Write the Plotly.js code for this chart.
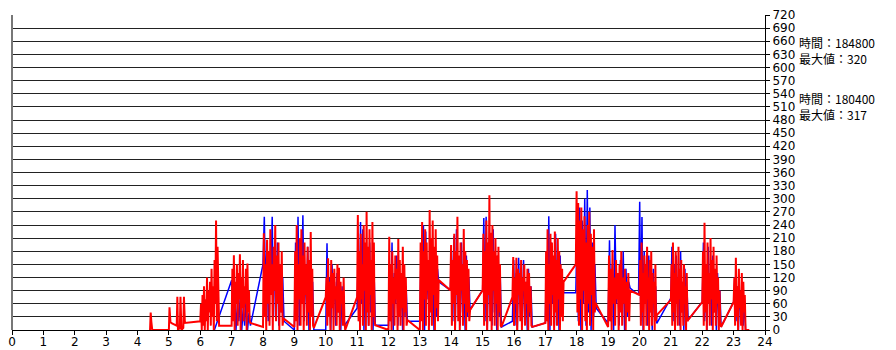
<!DOCTYPE html>
<html>
<head>
<meta charset="utf-8">
<script src="https://cdn.plot.ly/plotly-3.0.1.min.js"></script>
<style>html,body{margin:0;padding:0;background:#fff;}#chart{width:896px;height:350px;}</style>
</head>
<body>
<div id="chart"></div>
<script>
// Hours axis ticks
const hourTicks = [0,1,2,3,4,5,6,7,8,9,10,11,12,13,14,15,16,17,18,19,20,21,22,23,24];

// Red series (時間：180400, 最大値：317) - early sparse samples
const redEarlyX = [4.40,4.42,4.44,4.47,5.00,5.02,5.05,5.10,5.25,5.27,5.29,5.35,5.37,5.40,5.46,5.48,5.51];
const redEarlyY = [0,40,20,0,0,52,18,15,10,76,0,5,76,0,5,76,16];

// Red series bursts: [start hour, end hour]
const redSpans = [[6.0,6.6],[7.0,7.6],[8.0,8.65],[9.0,9.62],[10.0,10.62],[11.0,11.58],[12.0,12.6],[13.0,13.6],[13.97,14.6],[15.0,15.6],[15.95,16.58],[17.0,17.58],[17.97,18.6],[19.0,19.7],[20.0,20.55],[21.0,21.55],[22.0,22.6],[23.0,23.38]];
const redBursts = [
  [20,60,0,80,10,100,0,70,20,120,0,90,40,110,10,140,30,100,0,160,60,250,20,190,40,10],
  [10,140,20,171,0,110,60,150,10,130,70,173,0,120,50,160,20,100,60,140,0,152,40,90,20,16],
  [7,221,30,150,0,206,60,180,10,230,80,150,0,190,90,240,20,170,60,200,0,150,40,180,10,27],
  [7,180,20,240,0,150,70,210,10,230,60,170,0,200,80,150,10,190,40,160,0,224,30,140,10,5],
  [75,120,10,164,30,110,0,160,50,130,0,140,70,100,10,150,40,142,0,110,60,90,10,120,20,0],
  [75,263,20,180,0,220,70,150,10,240,90,200,0,270,40,190,10,230,80,160,0,247,30,200,20,11],
  [0,213,20,150,0,180,60,120,10,170,70,140,0,208,30,160,10,130,50,190,0,150,40,120,10,23],
  [0,200,20,247,0,180,70,230,10,200,90,160,0,274,40,210,10,250,80,190,0,230,50,170,20,114],
  [91,194,10,160,60,220,0,180,80,259,20,170,0,200,90,150,10,231,60,180,0,160,40,140,20,46],
  [91,220,10,180,60,250,0,200,80,308,20,222,0,240,90,180,10,210,60,170,0,190,40,150,10,7],
  [75,167,10,120,60,165,0,140,80,130,20,160,0,120,90,150,10,110,60,140,0,130,40,100,10,7],
  [16,180,20,230,0,150,60,220,10,200,80,170,0,225,40,160,10,210,70,180,0,150,30,140,20,110],
  [150,317,40,290,10,250,70,280,0,230,90,260,20,200,0,240,60,270,10,220,80,190,0,230,40,62],
  [7,170,20,140,0,183,60,120,10,160,70,130,0,150,40,180,10,120,60,140,0,110,40,130,20,90],
  [80,160,10,200,40,130,0,170,60,150,10,190,70,120,0,160,40,180,10,130,60,110,0,150,20,34],
  [69,150,10,200,40,130,0,180,60,120,10,190,70,140,0,160,40,110,10,150,60,100,0,130,20,23],
  [64,180,10,245,40,150,0,200,60,130,10,210,70,160,0,190,40,140,10,170,60,120,0,90,20,7],
  [64,120,10,165,30,100,0,140,50,90,10,130,0,110,40,80,0]
];
const redTailX = [23.5];
const redTailY = [0];

// Blue series (時間：184800, 最大値：320)
const blueEarlyX = [6.45];
const blueEarlyY = [0];
const blueSpans = [[7.0,7.6],[8.0,8.67],[9.0,9.62],[10.0,10.6],[11.0,11.58],[12.0,12.6],[13.0,13.6],[13.97,14.6],[15.0,15.6],[15.95,16.58],[17.0,17.58],[17.97,18.62],[19.0,19.7],[19.97,20.55],[21.0,21.55],[22.0,22.6],[23.0,23.38]];
const blueBursts = [
  [114,40,90,0,60,20,80,0,50,10,70,0,40,10],
  [150,259,80,200,20,170,100,259,30,180,60,200,10,150,40,120,20],
  [0,200,50,259,10,180,90,262,20,150,60,190,0,130,40,110,0],
  [0,198,30,120,0,150,60,110,10,130,40,90,0,100,20,11],
  [50,180,20,247,60,230,0,190,80,150,10,200,40,130,0,120,11],
  [11,150,20,200,0,130,60,170,10,150,40,120,0,150,30,100,20],
  [20,180,30,240,0,225,70,160,10,200,40,150,0,170,30,140,110],
  [91,180,20,215,0,230,60,160,10,200,40,140,0,170,30,120,46],
  [91,256,20,259,0,200,60,180,10,230,40,150,0,170,30,120,7],
  [20,160,10,130,0,165,60,120,10,160,40,110,0,140,30,100,7],
  [16,180,20,260,0,200,60,150,10,220,40,130,0,170,30,110,85],
  [85,230,20,280,0,250,60,300,10,320,40,280,0,200,30,150,50],
  [16,205,20,150,0,240,60,130,10,160,40,180,0,140,30,110,96],
  [80,293,20,258,0,180,60,150,10,170,40,130,0,140,30,100,15],
  [73,190,20,150,0,170,60,120,10,180,40,110,0,140,30,90,23],
  [64,200,20,150,0,190,60,120,10,170,40,110,0,130,30,90,7],
  [64,121,20,100,0,90,40,80,10,70,0]
];

const labels = [
  {time:'時間：184800', max:'最大値：320'},
  {time:'時間：180400', max:'最大値：317'}
];

function build(earlyX, earlyY, spans, bursts, tailX, tailY){
  const xs = earlyX.slice(), ys = earlyY.slice();
  spans.forEach((s,i)=>{
    const v = bursts[i], n = v.length;
    v.forEach((val,j)=>{ xs.push(s[0] + (s[1]-s[0])*j/(n-1)); ys.push(val); });
  });
  tailX.forEach((x,i)=>{ xs.push(x); ys.push(tailY[i]); });
  return {xs, ys};
}
const blue = build(blueEarlyX, blueEarlyY, blueSpans, blueBursts, [], []);
const red = build(redEarlyX, redEarlyY, redSpans, redBursts, redTailX, redTailY);

const traces = [
  {x: blue.xs, y: blue.ys, type:'scatter', mode:'lines', line:{color:'rgb(0,0,255)', width:1.5}, hoverinfo:'skip'},
  {x: red.xs, y: red.ys, type:'scatter', mode:'lines', line:{color:'rgb(255,0,0)', width:2}, hoverinfo:'skip'}
];

const tickFont = {family:'DejaVu Sans, Tahoma, sans-serif', size:12, color:'#000'};
const annFont = {family:'Noto Sans CJK JP, DejaVu Sans, sans-serif', size:12, color:'#000'};

const layout = {
  width:896, height:350,
  margin:{l:12, r:131, t:15, b:20, pad:0},
  paper_bgcolor:'#fff', plot_bgcolor:'#fff',
  showlegend:false,
  xaxis:{range:[0,24], tickvals:hourTicks, ticktext:hourTicks.map(String), ticks:'outside', ticklen:4, tickcolor:'#000',
         ticklabelstandoff:-3,
         showline:true, linecolor:'#000', linewidth:1, showgrid:false, zeroline:false, tickfont:{family:tickFont.family, size:12, color:'#000'}},
  yaxis:{range:[0,720], dtick:30, tick0:0, side:'right', ticks:'outside', ticklen:4, tickcolor:'#000',
         showline:true, linecolor:'#000', linewidth:1, showgrid:true, gridcolor:'#222', gridwidth:1, zeroline:false,
         tickfont:tickFont},
  shapes:[{type:'line', xref:'paper', yref:'paper', x0:0, x1:0, y0:0, y1:1, line:{color:'#777', width:2}}],
  annotations:[
    {xref:'paper', yref:'y', x:1.0425, y:638, xanchor:'left', yanchor:'middle', align:'left', text:labels[0].time + '<br>' + labels[0].max, showarrow:false, font:annFont},
    {xref:'paper', yref:'y', x:1.0425, y:510, xanchor:'left', yanchor:'middle', align:'left', text:labels[1].time + '<br>' + labels[1].max, showarrow:false, font:annFont}
  ]
};
Plotly.newPlot('chart', traces, layout, {staticPlot:true, displayModeBar:false});
</script>
</body>
</html>
